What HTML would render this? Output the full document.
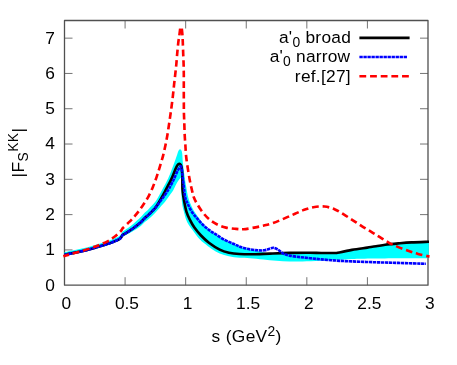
<!DOCTYPE html>
<html><head><meta charset="utf-8"><title>plot</title>
<style>html,body{margin:0;padding:0;background:#fff;overflow:hidden}svg{display:block;will-change:transform}text{font-family:"Liberation Sans",sans-serif;fill:#000}</style></head><body>
<svg width="457" height="365" viewBox="0 0 457 365">
<rect width="457" height="365" fill="#fff"/>
<path d="M125.08,285.20 v-8.0 M125.08,20.50 v8.0 M185.67,285.20 v-8.0 M185.67,20.50 v8.0 M246.25,285.20 v-8.0 M246.25,20.50 v8.0 M306.83,285.20 v-8.0 M306.83,20.50 v8.0 M367.42,285.20 v-8.0 M367.42,20.50 v8.0 M64.50,249.91 h8.0 M428.00,249.91 h-8.0 M64.50,214.61 h8.0 M428.00,214.61 h-8.0 M64.50,179.32 h8.0 M428.00,179.32 h-8.0 M64.50,144.03 h8.0 M428.00,144.03 h-8.0 M64.50,108.73 h8.0 M428.00,108.73 h-8.0 M64.50,73.44 h8.0 M428.00,73.44 h-8.0 M64.50,38.15 h8.0 M428.00,38.15 h-8.0" fill="none" stroke="#505050" stroke-width="0.8"/>
<rect x="64.5" y="20.5" width="363.5" height="264.7" fill="none" stroke="#505050" stroke-width="1.3" stroke-linejoin="round"/>
<text x="66.40" y="309.30" font-size="17.33" text-anchor="middle">0</text>
<text x="126.98" y="309.30" font-size="17.33" text-anchor="middle">0.5</text>
<text x="187.57" y="309.30" font-size="17.33" text-anchor="middle">1</text>
<text x="248.15" y="309.30" font-size="17.33" text-anchor="middle">1.5</text>
<text x="308.73" y="309.30" font-size="17.33" text-anchor="middle">2</text>
<text x="369.32" y="309.30" font-size="17.33" text-anchor="middle">2.5</text>
<text x="429.90" y="309.30" font-size="17.33" text-anchor="middle">3</text>
<text x="55.00" y="290.60" font-size="17.33" text-anchor="end">0</text>
<text x="55.00" y="255.31" font-size="17.33" text-anchor="end">1</text>
<text x="55.00" y="220.01" font-size="17.33" text-anchor="end">2</text>
<text x="55.00" y="184.72" font-size="17.33" text-anchor="end">3</text>
<text x="55.00" y="149.43" font-size="17.33" text-anchor="end">4</text>
<text x="55.00" y="114.13" font-size="17.33" text-anchor="end">5</text>
<text x="55.00" y="78.84" font-size="17.33" text-anchor="end">6</text>
<text x="55.00" y="43.55" font-size="17.33" text-anchor="end">7</text>
<path d="M64.50,252.30 C65.62,252.05 67.90,251.50 71.20,250.80 C74.50,250.10 79.92,249.18 84.30,248.10 C88.68,247.02 93.55,245.48 97.50,244.30 C101.45,243.12 105.17,241.97 108.00,241.00 C110.83,240.03 112.55,239.38 114.50,238.50 C116.45,237.62 118.53,236.52 119.70,235.70 C120.87,234.88 121.05,234.25 121.50,233.60 C121.95,232.95 122.25,232.10 122.40,231.80 C123.05,231.35 124.55,230.37 126.30,229.10 C128.05,227.83 130.48,226.20 132.90,224.20 C135.32,222.20 138.80,219.03 140.80,217.10 C142.80,215.17 143.58,213.97 144.90,212.60 C146.22,211.23 146.97,210.70 148.70,208.90 C150.43,207.10 153.62,203.95 155.30,201.80 C156.98,199.65 157.65,198.02 158.80,196.00 C159.95,193.98 160.92,192.07 162.20,189.70 C163.48,187.33 165.27,184.25 166.50,181.80 C167.73,179.35 168.58,177.43 169.60,175.00 C170.62,172.57 171.65,169.70 172.60,167.20 C173.55,164.70 174.53,162.12 175.30,160.00 C176.07,157.88 176.67,156.03 177.20,154.50 C177.73,152.97 178.05,151.68 178.50,150.80 C178.95,149.92 179.43,149.28 179.90,149.20 C180.37,149.12 180.92,149.58 181.30,150.30 C181.68,151.02 181.93,151.38 182.20,153.50 C182.47,155.62 182.50,159.20 182.90,163.00 C183.30,166.80 184.05,172.33 184.60,176.30 C185.15,180.27 185.60,183.30 186.20,186.80 C186.80,190.30 187.47,194.45 188.20,197.30 C188.93,200.15 189.55,201.48 190.60,203.90 C191.65,206.32 193.10,209.42 194.50,211.80 C195.90,214.18 197.53,216.20 199.00,218.20 C200.47,220.20 201.65,221.90 203.30,223.80 C204.95,225.70 206.87,227.87 208.90,229.60 C210.93,231.33 212.87,232.48 215.50,234.20 C218.13,235.92 221.63,238.27 224.70,239.90 C227.77,241.53 231.23,242.82 233.90,244.00 C236.57,245.18 238.02,246.10 240.70,247.00 C243.38,247.90 247.13,248.73 250.00,249.40 C252.87,250.07 255.48,250.48 257.90,251.00 C260.32,251.52 262.53,252.07 264.50,252.50 C266.47,252.93 265.53,253.53 269.70,253.60 C273.87,253.67 282.78,253.05 289.50,252.90 C296.22,252.75 304.70,252.68 310.00,252.70 C315.30,252.72 316.87,252.95 321.30,253.00 C325.73,253.05 331.50,253.52 336.60,253.00 C341.70,252.48 346.78,250.80 351.90,249.90 C357.02,249.00 364.73,247.98 367.30,247.60 C368.75,247.38 373.02,246.78 376.00,246.30 C378.98,245.82 381.48,245.18 385.20,244.70 C388.92,244.22 393.92,243.78 398.30,243.40 C402.68,243.02 406.42,242.67 411.50,242.40 C416.58,242.13 425.92,241.90 428.80,241.80 L428.80,258.20 C420.00,258.23 388.80,258.28 376.00,258.40 C363.20,258.52 358.67,258.67 352.00,258.90 C345.33,259.13 341.33,259.48 336.00,259.80 C330.67,260.12 325.57,260.52 320.00,260.80 C314.43,261.08 307.68,261.38 302.60,261.50 C297.52,261.62 293.88,261.62 289.50,261.50 C285.12,261.38 280.68,261.13 276.30,260.80 C271.92,260.47 267.58,259.92 263.20,259.50 C258.82,259.08 253.97,258.58 250.00,258.30 C246.03,258.02 242.92,258.15 239.40,257.80 C235.88,257.45 232.18,256.90 228.90,256.20 C225.62,255.50 222.55,254.80 219.70,253.60 C216.85,252.40 214.43,250.77 211.80,249.00 C209.17,247.23 205.92,244.62 203.90,243.00 C201.88,241.38 201.27,241.02 199.70,239.30 C198.13,237.58 196.58,235.53 194.50,232.70 C192.42,229.87 189.02,226.00 187.20,222.30 C185.38,218.60 184.47,213.82 183.60,210.50 C182.73,207.18 182.37,205.90 182.00,202.40 C181.63,198.90 181.48,193.73 181.40,189.50 C181.32,185.27 181.48,179.08 181.50,177.00 C181.18,177.33 180.25,178.20 179.60,179.00 C178.95,179.80 178.32,180.63 177.60,181.80 C176.88,182.97 176.00,184.65 175.30,186.00 C174.60,187.35 174.15,188.62 173.40,189.90 C172.65,191.18 172.03,191.95 170.80,193.70 C169.57,195.45 167.57,198.38 166.00,200.40 C164.43,202.42 163.18,203.73 161.40,205.80 C159.62,207.87 157.42,210.58 155.30,212.80 C153.18,215.02 150.43,217.55 148.70,219.10 C146.97,220.65 146.22,220.97 144.90,222.10 C143.58,223.23 142.80,224.38 140.80,225.90 C138.80,227.42 135.32,229.72 132.90,231.20 C130.48,232.68 128.05,233.88 126.30,234.80 C124.55,235.72 123.05,236.38 122.40,236.70 C122.25,236.97 121.95,237.72 121.50,238.30 C121.05,238.88 120.87,239.48 119.70,240.20 C118.53,240.92 116.45,241.82 114.50,242.60 C112.55,243.38 110.83,244.00 108.00,244.90 C105.17,245.80 101.45,246.88 97.50,248.00 C93.55,249.12 88.68,250.58 84.30,251.60 C79.92,252.62 74.50,253.43 71.20,254.10 C67.90,254.77 65.62,255.35 64.50,255.60 Z" fill="#00ffff" stroke="none"/>
<path d="M64.50,254.90 C65.62,254.65 67.90,254.10 71.20,253.40 C74.50,252.70 79.92,251.77 84.30,250.70 C88.68,249.63 93.55,248.15 97.50,247.00 C101.45,245.85 105.17,244.73 108.00,243.80 C110.83,242.87 112.55,242.23 114.50,241.40 C116.45,240.57 118.53,239.57 119.70,238.80 C120.87,238.03 121.05,237.42 121.50,236.80 C121.95,236.18 122.25,235.38 122.40,235.10 C123.05,234.72 124.55,233.90 126.30,232.80 C128.05,231.70 130.48,230.27 132.90,228.50 C135.32,226.73 138.80,223.95 140.80,222.20 C142.80,220.45 143.58,219.27 144.90,218.00 C146.22,216.73 146.97,216.30 148.70,214.60 C150.43,212.90 153.52,209.98 155.30,207.80 C157.08,205.62 158.05,203.72 159.40,201.50 C160.75,199.28 162.32,196.47 163.40,194.50 C164.48,192.53 165.13,191.18 165.90,189.70 C166.67,188.22 167.32,186.92 168.00,185.60 C168.68,184.28 169.25,183.33 170.00,181.80 C170.75,180.27 171.57,178.57 172.50,176.40 C173.43,174.23 174.78,170.67 175.60,168.80 C176.42,166.93 176.78,166.03 177.40,165.20 C178.02,164.37 178.73,163.87 179.30,163.80 C179.87,163.73 180.40,164.10 180.80,164.80 C181.20,165.50 181.45,166.13 181.70,168.00 C181.95,169.87 182.17,172.42 182.30,176.00 C182.43,179.58 182.30,185.95 182.50,189.50 C182.70,193.05 183.13,194.90 183.50,197.30 C183.87,199.70 184.20,201.48 184.70,203.90 C185.20,206.32 185.65,209.17 186.50,211.80 C187.35,214.43 188.48,217.07 189.80,219.70 C191.12,222.33 192.53,224.97 194.40,227.60 C196.27,230.23 198.58,232.98 201.00,235.50 C203.42,238.02 205.78,240.35 208.90,242.70 C212.02,245.05 216.37,247.93 219.70,249.60 C223.03,251.27 225.62,251.97 228.90,252.70 C232.18,253.43 234.88,253.75 239.40,254.00 C243.92,254.25 250.95,254.27 256.00,254.20 C261.05,254.13 264.12,253.82 269.70,253.60 C275.28,253.38 282.78,253.05 289.50,252.90 C296.22,252.75 304.70,252.68 310.00,252.70 C315.30,252.72 316.87,252.95 321.30,253.00 C325.73,253.05 334.05,253.00 336.60,253.00 C339.15,252.48 346.78,250.80 351.90,249.90 C357.02,249.00 363.28,248.20 367.30,247.60 C371.32,247.00 373.02,246.78 376.00,246.30 C378.98,245.82 381.48,245.18 385.20,244.70 C388.92,244.22 393.92,243.78 398.30,243.40 C402.68,243.02 406.38,242.67 411.50,242.40 C416.62,242.13 426.08,241.90 429.00,241.80" fill="none" stroke="#000" stroke-width="2.63" stroke-linejoin="round"/>
<path d="M64.50,254.90 C65.62,254.65 67.90,254.10 71.20,253.40 C74.50,252.70 79.92,251.77 84.30,250.70 C88.68,249.63 93.55,248.15 97.50,247.00 C101.45,245.85 105.17,244.73 108.00,243.80 C110.83,242.87 112.55,242.23 114.50,241.40 C116.45,240.57 118.53,239.57 119.70,238.80 C120.87,238.03 121.05,237.42 121.50,236.80 C121.95,236.18 122.25,235.38 122.40,235.10 C123.05,234.72 124.55,233.90 126.30,232.80 C128.05,231.70 130.48,230.27 132.90,228.50 C135.32,226.73 138.80,223.95 140.80,222.20 C142.80,220.45 143.58,219.27 144.90,218.00 C146.22,216.73 146.97,216.30 148.70,214.60 C150.43,212.90 153.43,209.93 155.30,207.80 C157.17,205.67 158.35,203.87 159.90,201.80 C161.45,199.73 163.20,197.42 164.60,195.40 C166.00,193.38 167.40,191.12 168.30,189.70 C169.20,188.28 169.28,188.22 170.00,186.90 C170.72,185.58 171.93,183.12 172.60,181.80 C173.27,180.48 173.13,180.88 174.00,179.00 C174.87,177.12 176.70,172.63 177.80,170.50 C178.90,168.37 180.13,166.92 180.60,166.20 C180.77,166.58 181.27,166.82 181.60,168.50 C181.93,170.18 182.22,173.25 182.60,176.30 C182.98,179.35 183.47,183.30 183.90,186.80 C184.33,190.30 184.55,194.45 185.20,197.30 C185.85,200.15 186.70,201.48 187.80,203.90 C188.90,206.32 190.25,209.38 191.80,211.80 C193.35,214.22 195.35,216.32 197.10,218.40 C198.85,220.48 200.33,222.38 202.30,224.30 C204.27,226.22 206.70,228.25 208.90,229.90 C211.10,231.55 212.87,232.53 215.50,234.20 C218.13,235.87 221.63,238.27 224.70,239.90 C227.77,241.53 231.23,242.82 233.90,244.00 C236.57,245.18 238.02,246.10 240.70,247.00 C243.38,247.90 247.13,248.85 250.00,249.40 C252.87,249.95 255.48,250.15 257.90,250.30 C260.32,250.45 262.53,250.57 264.50,250.30 C266.47,250.03 268.22,249.12 269.70,248.70 C271.18,248.28 272.08,247.68 273.40,247.80 C274.72,247.92 276.02,248.48 277.60,249.40 C279.18,250.32 280.92,252.27 282.90,253.30 C284.88,254.33 286.65,254.97 289.50,255.60 C292.35,256.23 296.58,256.67 300.00,257.10 C303.42,257.53 306.45,257.82 310.00,258.20 C313.55,258.58 316.87,259.00 321.30,259.40 C325.73,259.80 331.50,260.27 336.60,260.60 C341.70,260.93 345.33,261.12 351.90,261.40 C358.47,261.68 368.27,262.05 376.00,262.30 C383.73,262.55 389.97,262.65 398.30,262.90 C406.63,263.15 421.38,263.65 426.00,263.80" fill="none" stroke="#00f" stroke-width="2.63" stroke-dasharray="3.35 0.67" stroke-linejoin="round"/>
<path d="M180.20,28.60 C180.05,29.80 179.62,33.50 179.30,35.80 C178.98,38.10 178.65,39.43 178.30,42.40 C177.95,45.37 177.53,49.92 177.20,53.60 C176.87,57.28 176.62,61.12 176.30,64.50 C175.98,67.88 175.67,70.58 175.30,73.90 C174.93,77.22 174.48,80.90 174.10,84.40 C173.72,87.90 173.40,91.38 173.00,94.90 C172.60,98.42 172.08,102.52 171.70,105.50 C171.32,108.48 171.12,109.85 170.70,112.80 C170.28,115.75 169.75,119.50 169.20,123.20 C168.65,126.90 168.03,131.28 167.40,135.00 C166.77,138.72 166.12,142.07 165.40,145.50 C164.68,148.93 163.98,152.22 163.10,155.60 C162.22,158.98 161.15,162.33 160.10,165.80 C159.05,169.27 158.00,172.88 156.80,176.40 C155.60,179.92 154.37,183.42 152.90,186.90 C151.43,190.38 149.80,194.03 148.00,197.30 C146.20,200.57 144.07,203.65 142.10,206.50 C140.13,209.35 138.28,211.87 136.20,214.40 C134.12,216.93 131.87,219.40 129.60,221.70 C127.33,224.00 123.77,227.12 122.60,228.20 C122.23,228.75 121.75,230.07 120.40,231.50 C119.05,232.93 116.57,235.20 114.50,236.80 C112.43,238.40 110.83,239.62 108.00,241.10 C105.17,242.58 101.45,244.17 97.50,245.70 C93.55,247.23 88.68,248.92 84.30,250.30 C79.92,251.68 74.70,253.03 71.20,254.00 C67.70,254.97 64.62,255.79 63.30,256.15" fill="none" stroke="#f00" stroke-width="2.63" stroke-dasharray="6.700 3.830" stroke-linejoin="round"/>
<path d="M181.80,28.60 C181.92,29.80 182.33,33.50 182.50,35.80 C182.67,38.10 182.68,39.43 182.80,42.40 C182.92,45.37 183.07,50.03 183.20,53.60 C183.33,57.17 183.50,60.42 183.60,63.80 C183.70,67.18 183.77,70.47 183.80,73.90 C183.83,77.33 183.80,80.90 183.80,84.40 C183.80,87.90 183.79,91.38 183.80,94.90 C183.81,98.42 183.83,102.55 183.85,105.50 C183.87,108.45 183.82,109.65 183.90,112.60 C183.98,115.55 184.17,119.47 184.30,123.20 C184.43,126.93 184.52,131.28 184.70,135.00 C184.88,138.72 185.17,142.00 185.40,145.50 C185.63,149.00 185.70,152.18 186.10,156.00 C186.50,159.82 187.18,164.35 187.80,168.40 C188.42,172.45 189.13,176.78 189.80,180.30 C190.47,183.82 191.13,186.67 191.80,189.50 C192.47,192.33 192.92,194.90 193.80,197.30 C194.68,199.70 195.68,201.48 197.10,203.90 C198.52,206.32 200.33,209.28 202.30,211.80 C204.27,214.32 206.48,216.92 208.90,219.00 C211.32,221.08 213.95,222.87 216.80,224.30 C219.65,225.73 222.80,226.83 226.00,227.60 C229.20,228.37 233.10,228.63 236.00,228.90 C238.90,229.17 240.63,229.37 243.40,229.20 C246.17,229.03 249.30,228.48 252.60,227.90 C255.90,227.32 259.87,226.48 263.20,225.70 C266.53,224.92 269.05,224.42 272.60,223.20 C276.15,221.98 280.77,219.97 284.50,218.40 C288.23,216.83 291.72,215.23 295.00,213.80 C298.28,212.37 301.13,210.90 304.20,209.80 C307.27,208.70 310.02,207.75 313.40,207.20 C316.78,206.65 320.98,206.17 324.50,206.50 C328.02,206.83 331.30,207.88 334.50,209.20 C337.70,210.52 340.63,212.55 343.70,214.40 C346.77,216.25 349.83,218.32 352.90,220.30 C355.97,222.28 359.03,224.38 362.10,226.30 C365.17,228.22 368.33,229.98 371.30,231.80 C374.27,233.62 376.93,235.37 379.90,237.20 C382.87,239.03 386.03,241.15 389.10,242.80 C392.17,244.45 395.02,245.73 398.30,247.10 C401.58,248.47 405.52,249.87 408.80,251.00 C412.08,252.13 414.55,252.97 418.00,253.90 C421.45,254.83 427.58,256.15 429.50,256.60" fill="none" stroke="#f00" stroke-width="2.63" stroke-dasharray="6.700 3.830" stroke-linejoin="round"/>
<text x="351.10" y="43.10" font-size="17.33" text-anchor="end" letter-spacing="0.26">a'<tspan font-size="13.87" dy="3.8">0</tspan><tspan dy="-3.8"> broad</tspan></text>
<path d="M359.40,37.90 H409.60" fill="none" stroke="#000" stroke-width="2.63"/>
<text x="350.30" y="62.20" font-size="17.33" text-anchor="end" letter-spacing="0.21">a'<tspan font-size="13.87" dy="3.8">0</tspan><tspan dy="-3.8"> narrow</tspan></text>
<path d="M359.40,57.00 H407.40" fill="none" stroke="#00f" stroke-width="2.63" stroke-dasharray="3.35 0.67"/>
<text x="350.90" y="81.50" font-size="17.33" text-anchor="end" letter-spacing="0.26">ref.[27]</text>
<path d="M359.40,76.30 H409.50" fill="none" stroke="#f00" stroke-width="2.63" stroke-dasharray="6.8 3.86"/>
<text x="211.6" y="341.6" font-size="17.33" letter-spacing="0.33">s (GeV<tspan font-size="13.87" dy="-5.3">2</tspan><tspan dy="5.3">)</tspan></text>
<text transform="translate(23.7,177.55) rotate(-90)" font-size="17.33" letter-spacing="0.45">|F<tspan font-size="13.87" dy="4.3">S</tspan><tspan font-size="13.87" dy="-10.1">KK</tspan><tspan dy="5.8">|</tspan></text>
</svg></body></html>
